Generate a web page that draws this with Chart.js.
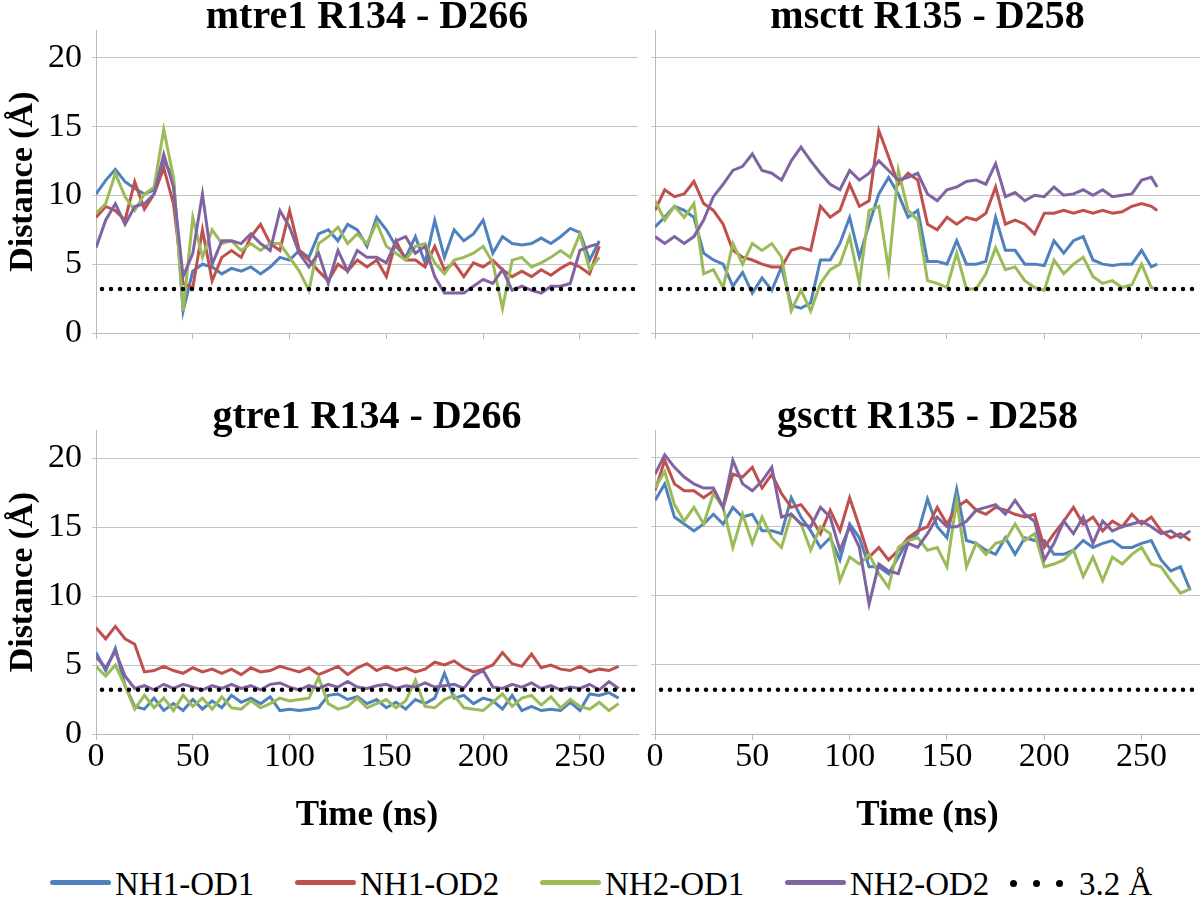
<!DOCTYPE html>
<html>
<head>
<meta charset="utf-8">
<script src="https://cdn.jsdelivr.net/npm/chart.js@4.4.0/dist/chart.umd.min.js"></script>
<style>
  body { margin: 0; background: #fff; width: 1200px; height: 902px; position: relative; overflow: hidden; }
  canvas { position: absolute; }
  .lg { position: absolute; font-family: "Liberation Serif", "Times New Roman", serif; font-size: 33px; line-height: 40px; color: #000; white-space: nowrap; }
  .lgline { position: absolute; height: 5px; border-radius: 3px; }
  .lgdot { position: absolute; width: 7px; height: 7px; border-radius: 50%; background: #000; }
</style>
</head>
<body>
<canvas id="mtre1" width="640" height="380" style="left:0;top:0"></canvas>
<canvas id="msctt" width="560" height="380" style="left:640px;top:0"></canvas>
<canvas id="gtre1" width="640" height="450" style="left:0;top:400px"></canvas>
<canvas id="gsctt" width="560" height="450" style="left:640px;top:400px"></canvas>
<div id="legend"></div>
<script>
const seriesNames = ["NH1-OD1", "NH1-OD2", "NH2-OD1", "NH2-OD2"];
const seriesColors = ["#4F81BD", "#C0504D", "#9BBB59", "#8064A2"];
const cutoff = 3.2;
const cutoffLabel = "3.2 Å";

// mtre1 R134 - D266
const timeMtre1 = [0,5,10,15,20,25,30,35,40,45,50,55,60,65,70,75,80,85,90,95,100,105,110,115,120,125,130,135,140,145,150,155,160,165,170,175,180,185,190,195,200,205,210,215,220,225,230,235,240,245,250,255,260];
const mtre1NH1OD1 = [10.1,11.1,11.9,11.0,10.5,10.1,10.4,12.5,11.3,1.6, 4.5,5.0,4.8,4.3,4.7,4.5,4.8,4.3,4.8,5.5, 5.3,6.0,5.5,7.2,7.5,6.7,7.9,7.5,6.3,8.4, 7.5,6.3,5.5,7.0,5.1,8.2,5.5,7.5,6.7,7.2, 8.2,5.8,7.0,6.5,6.4,6.5,6.9,6.5,7.0,7.6, 7.3,5.3,6.7];
const mtre1NH1OD2 = [8.4,9.2,8.9,8.2,11.0,9.0,10.1,12.0,9.4,3.6, 3.3,7.5,3.8,5.5,6.0,5.5,7.0,7.9,6.5,6.0, 8.9,6.0,5.3,4.5,3.8,5.0,4.5,5.3,4.8,5.3, 4.1,6.7,5.3,5.3,4.8,6.3,4.6,5.1,4.1,5.1, 4.8,5.3,4.6,4.1,4.5,4.1,4.6,4.2,4.7,5.1, 4.8,4.3,6.3];
const mtre1NH2OD1 = [8.7,9.4,11.6,9.9,8.9,10.1,10.6,14.8,11.3,1.6, 8.4,5.5,7.5,6.5,6.7,6.0,6.5,6.0,6.5,6.5, 5.5,4.5,3.1,6.5,7.0,7.7,6.5,7.2,6.5,8.0, 6.3,5.8,5.3,6.3,6.5,5.1,4.3,5.3,5.5,5.8, 6.3,5.1,1.8,5.3,5.5,4.8,5.1,5.5,6.0,5.5, 7.2,4.6,5.5];
const mtre1NH2OD2 = [6.2,8.2,9.4,7.9,9.2,9.4,10.1,13.0,10.6,4.1, 5.8,10.1,5.0,6.7,6.7,6.5,7.2,6.5,6.0,8.9, 7.7,5.8,4.8,5.8,3.6,6.0,4.5,6.0,5.5,5.5, 5.1,6.7,7.0,5.8,6.3,4.1,2.9,2.9,2.9,3.4, 3.9,3.6,4.6,3.1,3.4,3.1,2.9,3.4,3.4,3.6, 6.0,6.3,6.5];

// msctt R135 - D258
const timeMsctt = [0,5,10,15,20,25,30,35,40,45,50,55,60,65,70,75,80,85,90,95,100,105,110,115,120,125,130,135,140,145,150,155,160,165,170,175,180,185,190,195,200,205,210,215,220,225,230,235,240,245,250,255,258];
const mscttNH1OD1 = [7.7,8.4,9.2,8.9,8.4,5.8,5.3,5.0,3.4,4.4, 2.9,4.0,3.1,4.8,2.0,1.8,2.2,5.3,5.3,6.5, 8.4,5.5,7.9,10.1,11.3,10.1,8.4,8.9,5.2,5.2, 5.0,6.7,5.0,5.0,5.2,8.4,6.0,6.0,5.0,5.0, 4.9,6.7,5.8,6.7,7.0,5.3,5.0,4.9,5.0,5.0, 6.0,4.8,5.0];
const mscttNH1OD2 = [8.9,10.4,9.9,10.1,11.0,9.4,8.9,7.9,6.0,5.5, 5.3,5.0,4.8,4.8,6.0,6.2,6.0,9.2,8.4,8.9, 10.8,9.2,9.6,14.7,12.8,10.8,11.6,11.1,7.9,7.5, 8.4,7.9,8.4,8.2,8.7,10.6,7.9,8.2,7.9,7.2, 8.7,8.7,8.9,8.7,8.9,8.7,8.9,8.7,8.8,9.2, 9.4,9.2,8.9];
const mscttNH2OD1 = [9.6,8.2,9.2,8.4,9.4,4.3,4.6,3.3,6.5,5.0, 6.5,6.0,6.5,5.5,1.6,3.1,1.6,3.6,4.6,5.0, 7.0,3.6,8.9,9.2,4.6,11.8,8.9,8.2,3.8,3.6, 3.3,5.8,3.2,3.2,4.3,6.2,4.6,4.8,3.8,3.3, 3.1,5.3,4.3,5.0,5.5,4.1,3.6,3.8,3.3,3.5, 5.0,3.3,3.2];
const mscttNH2OD2 = [7.0,6.5,7.0,6.5,7.0,8.2,9.9,10.8,11.8,12.1, 13.0,11.8,11.6,11.1,12.5,13.5,12.5,11.6,10.8,10.4, 11.8,11.1,11.6,12.5,11.8,11.1,11.3,11.6,10.1,9.6, 10.4,10.6,11.0,11.1,10.8,12.3,9.9,10.2,9.6,10.0, 9.9,10.6,10.0,10.1,10.4,10.0,10.4,9.9,10.0,10.1, 11.1,11.3,10.6];

// gtre1 R134 - D266
const timeGtre1 = [0,5,10,15,20,25,30,35,40,45,50,55,60,65,70,75,80,85,90,95,100,105,110,115,120,125,130,135,140,145,150,155,160,165,170,175,180,185,190,195,200,205,210,215,220,225,230,235,240,245,250,255,260,265,270];
const gtre1NH1OD1 = [5.9,4.6,6.2,3.5,2.0,1.8,2.6,1.7,2.2,1.7, 2.5,1.8,2.4,1.9,2.8,2.3,2.6,2.2,2.7,1.7, 1.8,1.7,1.8,1.9,2.8,2.9,2.5,2.7,2.2,2.5, 1.9,2.3,1.8,2.5,2.2,2.6,4.4,2.6,2.8,2.2, 2.6,2.4,1.8,2.8,1.7,2.0,1.7,1.8,1.7,2.3, 1.7,2.9,2.8,3.0,2.6];
const gtre1NH1OD2 = [7.7,6.9,7.8,6.9,6.5,4.5,4.6,4.9,4.6,4.4, 4.8,4.5,4.7,4.4,4.7,4.3,4.8,4.5,4.6,4.9, 4.7,4.5,4.8,4.3,4.6,4.9,4.3,4.8,5.1,4.6, 4.9,4.6,4.8,4.5,4.7,5.2,5.0,5.3,4.8,4.5, 4.7,5.0,5.9,5.1,4.9,5.8,4.8,5.0,4.7,4.6, 4.9,4.5,4.7,4.6,4.9];
const gtre1NH2OD1 = [4.9,4.2,5.0,3.5,1.8,2.8,1.9,2.6,1.7,2.8, 2.0,2.6,1.8,2.7,1.9,1.8,2.4,1.9,2.2,2.6, 2.4,2.5,2.6,4.1,2.2,1.8,2.0,2.6,1.9,2.2, 2.5,1.9,2.4,3.9,2.0,1.9,2.5,2.8,1.9,1.8, 1.7,2.3,2.9,2.0,2.6,2.8,2.1,2.7,1.9,2.5, 2.0,1.8,2.3,1.7,2.2];
const gtre1NH2OD2 = [5.6,4.8,6.0,4.2,3.3,3.5,3.2,3.6,3.3,3.6, 3.4,3.2,3.5,3.3,3.6,3.3,3.5,3.2,3.6,3.7, 3.4,3.2,3.5,3.3,3.6,3.4,3.8,3.4,3.3,3.5, 3.6,3.3,3.5,3.4,3.7,3.4,3.5,3.6,3.3,4.2, 4.6,3.4,3.3,3.6,3.4,3.7,3.3,3.5,3.2,3.4, 3.3,3.6,3.2,3.8,3.3];

// gsctt R135 - D258
const timeGsctt = [0,5,10,15,20,25,30,35,40,45,50,55,60,65,70,75,80,85,90,95,100,105,110,115,120,125,130,135,140,145,150,155,160,165,170,175,180,185,190,195,200,205,210,215,220,225,230,235,240,245,250,255,260,265,270,275];
const gscttNH1OD1 = [16.9,18.1,15.7,15.2,14.7,15.2,15.9,15.2,16.4,15.7, 15.9,14.7,14.7,14.5,17.1,15.7,14.7,13.5,14.2,12.6, 15.2,14.2,12.1,12.1,11.6,12.8,14.0,14.5,17.0,15.0, 14.2,17.7,14.0,13.8,13.3,13.0,14.2,13.0,14.2,14.0, 14.0,13.0,13.0,13.3,14.0,13.5,13.8,14.0,13.5,13.5, 13.8,14.0,12.6,11.8,12.1,10.4];
const gscttNH1OD2 = [17.6,19.8,18.1,17.6,17.6,17.1,17.6,16.4,18.8,18.6, 19.3,17.8,18.8,17.4,16.4,16.6,15.7,14.5,16.2,14.7, 17.1,15.0,12.8,13.5,12.6,13.3,14.2,14.7,15.0,16.4, 15.2,16.4,16.9,16.2,15.9,16.4,16.2,15.9,15.7,15.9, 13.5,14.5,15.4,16.4,15.2,15.7,14.7,15.4,15.0,15.9, 15.2,15.7,14.7,14.2,14.5,14.0];
const gscttNH2OD1 = [17.8,19.0,16.6,15.4,16.4,15.2,17.4,16.4,13.5,15.9, 13.8,15.7,14.2,13.5,15.9,15.2,13.3,15.0,14.5,11.1, 12.8,12.3,13.0,11.6,10.6,13.5,14.0,14.2,13.3,13.5, 12.1,16.9,12.1,13.8,13.0,13.8,14.0,15.2,14.0,14.5, 12.1,12.3,12.6,13.3,11.4,12.8,11.1,12.8,12.3,13.0, 13.5,12.3,12.1,11.1,10.2,10.5];
const gscttNH2OD2 = [18.8,20.2,19.3,18.6,18.1,17.8,17.8,16.4,19.8,18.1, 17.6,18.3,19.3,15.7,15.9,15.2,15.0,16.4,15.7,13.3, 15.0,13.5,9.4,12.3,11.8,11.6,13.8,13.5,14.5,15.7, 15.0,15.0,15.4,16.2,16.4,16.6,15.9,16.9,15.9,15.4, 12.6,13.8,15.4,14.5,15.7,13.8,15.4,14.7,15.0,15.2, 15.4,15.0,14.5,14.7,14.2,14.7];

const xMax = 280;
const yMax = 22;
const serif = "'Liberation Serif', 'Times New Roman', serif";
const gridGray = "#C4C4C4";

function makePanel(id, title, times, series, left, bottom) {
  const datasets = series.map((vals, i) => ({
    label: seriesNames[i],
    data: times.map((t, j) => ({ x: t, y: vals[j] })),
    borderColor: seriesColors[i],
    borderWidth: 3,
    pointRadius: 0,
    tension: 0,
    order: 5 - i
  }));
  datasets.push({
    label: cutoffLabel,
    data: [{ x: 0, y: cutoff }, { x: xMax, y: cutoff }],
    borderColor: "#000",
    borderWidth: 4.5,
    borderDash: [0, 9],
    borderDashOffset: -6,
    borderCapStyle: "round",
    pointRadius: 0,
    order: 0
  });

  new Chart(document.getElementById(id), {
    type: "line",
    data: { datasets },
    options: {
      responsive: false,
      animation: false,
      events: [],
      layout: { padding: { left: 0, right: left ? 2 : 0, top: 0, bottom: 0 } },
      plugins: {
        legend: { display: false },
        tooltip: { enabled: false },
        title: {
          display: true,
          text: title,
          fullSize: false,
          color: "#000",
          font: { family: serif, size: 40, weight: "bold", lineHeight: 0.625 },
          padding: { top: 5, bottom: 0 }
        }
      },
      scales: {
        x: {
          type: "linear",
          min: 0,
          max: xMax,
          ticks: {
            display: bottom,
            stepSize: 50,
            includeBounds: false,
            maxRotation: 0,
            color: "#000",
            padding: 0,
            font: { family: serif, size: 34, lineHeight: 1 }
          },
          grid: { drawOnChartArea: false, drawTicks: true, tickLength: 6, color: "#BBBBBB" },
          border: { color: "#BBBBBB", width: 1 },
          title: {
            display: bottom,
            text: "Time (ns)",
            color: "#000",
            font: { family: serif, size: 35, weight: "bold", lineHeight: 1 },
            padding: { top: 0, bottom: 17 }
          },
          afterFit(s) { s.height = bottom ? 116 : 47; }
        },
        y: {
          min: 0,
          max: yMax,
          ticks: {
            display: left,
            stepSize: 5,
            includeBounds: false,
            color: "#000",
            padding: 10,
            font: { family: serif, size: 34 }
          },
          grid: { color: gridGray, drawTicks: true, tickLength: 4 },
          border: { color: "#BBBBBB", width: 1 },
          title: {
            display: left,
            text: "Distance (Å)",
            color: "#000",
            font: { family: serif, size: 34, weight: "bold", lineHeight: 1 },
            padding: { top: 6, bottom: 0 }
          },
          afterFit(s) { s.width = left ? 96 : 15; }
        }
      }
    }
  });
}

makePanel("mtre1", "mtre1 R134 - D266", timeMtre1, [mtre1NH1OD1, mtre1NH1OD2, mtre1NH2OD1, mtre1NH2OD2], true, false);
makePanel("msctt", "msctt R135 - D258", timeMsctt, [mscttNH1OD1, mscttNH1OD2, mscttNH2OD1, mscttNH2OD2], false, false);
makePanel("gtre1", "gtre1 R134 - D266", timeGtre1, [gtre1NH1OD1, gtre1NH1OD2, gtre1NH2OD1, gtre1NH2OD2], true, true);
makePanel("gsctt", "gsctt R135 - D258", timeGsctt, [gscttNH1OD1, gscttNH1OD2, gscttNH2OD1, gscttNH2OD2], false, true);

// legend along the bottom
const legend = document.getElementById("legend");
seriesNames.forEach((name, i) => {
  const x0 = 50 + i * 245;
  legend.innerHTML += `<div class="lgline" style="left:${x0}px;top:880px;width:61px;background:${seriesColors[i]}"></div>` +
    `<div class="lg" style="left:${x0 + 65}px;top:864px">${name}</div>`;
});
[1010, 1033, 1056].forEach(x => {
  legend.innerHTML += `<div class="lgdot" style="left:${x}px;top:880px"></div>`;
});
legend.innerHTML += `<div class="lg" style="left:1079px;top:864px">${cutoffLabel}</div>`;
</script>
</body>
</html>
